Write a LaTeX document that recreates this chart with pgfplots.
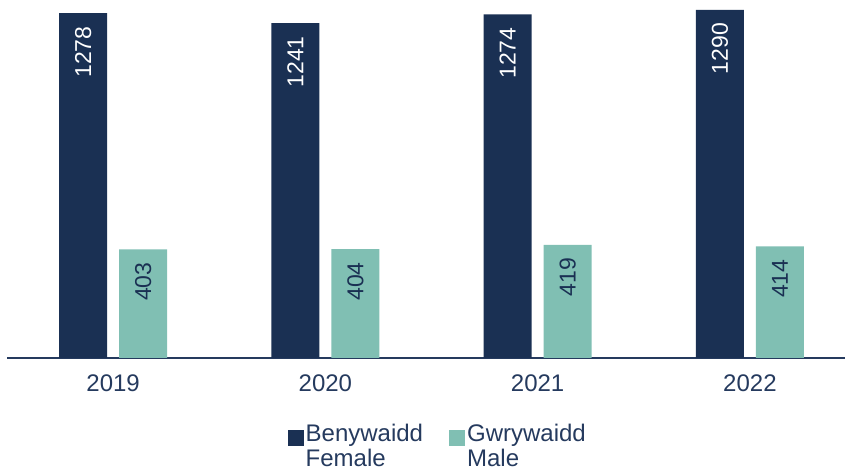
\documentclass[border=0pt]{standalone}
\usepackage{fontspec}
\setmainfont{Liberation Sans}
\usepackage{pgfplots}
\pgfplotsset{compat=1.18}
\definecolor{navy}{HTML}{1A3053}
\definecolor{teal}{HTML}{80BFB3}
\definecolor{labtext}{HTML}{253A5E}

\begin{document}
\begin{tikzpicture}
\begin{axis}[
  name=ax,
  scale only axis, width=838pt, height=358pt,
  ybar=12pt, bar width=48pt,
  xmin=-0.5, xmax=3.448, ymin=0, ymax=1327,
  enlarge x limits=false,
  xtick=data, xticklabels={2019,2020,2021,2022},
  axis x line*=bottom, axis y line=none,
  x axis line style={draw=labtext, line width=1.5pt, -},
  major tick length=0pt,
  xticklabel style={font=\fontsize{24}{28}\selectfont, text=labtext, inner sep=0pt, yshift=-17pt},
  /pgf/number format/assume math mode=true,
  /pgf/number format/1000 sep={},
  nodes near coords,
  nodes near coords style={rotate=90, anchor=east, inner xsep=13pt, inner ysep=0pt,
    font=\fontsize{23}{27}\selectfont},
  legend columns=2,
  legend style={draw=none, fill=none, at={(0.514,-0.172)}, anchor=north,
    font=\fontsize{24}{25}\selectfont, text=labtext,
    nodes={align=left, inner sep=2pt},
    /tikz/every even column/.append style={column sep=24pt}},
  legend image code/.code={\fill[#1] (0pt,0pt) rectangle (16pt,16pt);},
  clip=false,
]
\addplot[fill=navy, draw=none, every node near coord/.append style={text=white}]
  coordinates {(0,1278) (1,1241) (2,1274) (3,1290)};
\addplot[fill=teal, draw=none, every node near coord/.append style={text=navy}]
  coordinates {(0,403) (1,404) (2,419) (3,414)};
\legend{Benywaidd\\Female, Gwrywaidd\\Male}
\end{axis}
\pgfresetboundingbox
\path ([xshift=-7pt,yshift=-114pt]ax.south west) rectangle (ax.north east);
\end{tikzpicture}
\end{document}
